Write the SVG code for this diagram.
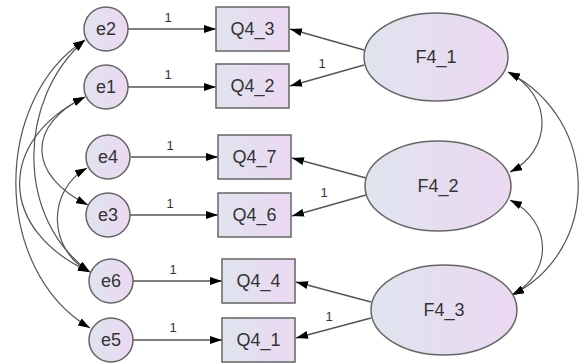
<svg xmlns="http://www.w3.org/2000/svg" width="582" height="363" viewBox="0 0 582 363">
  <defs>
    <linearGradient id="fillGrad" x1="0" y1="0" x2="1" y2="0">
      <stop offset="0" stop-color="#dfe4ee"/>
      <stop offset="1" stop-color="#ecd8f2"/>
    </linearGradient>
    <marker id="arrow" viewBox="0 0 12 8" refX="12" refY="4" markerWidth="12" markerHeight="8" markerUnits="userSpaceOnUse" orient="auto-start-reverse">
      <path d="M0,0 L12,4 L0,8 Z" fill="#000"/>
    </marker>
    <style>
      .node { fill: url(#fillGrad); stroke: #666; stroke-width: 1.5; }
      .label { font-family: "Liberation Sans", Arial, sans-serif; font-size: 18px; fill: #333; text-anchor: middle; dominant-baseline: central; }
      .weight { font-family: "Liberation Sans", Arial, sans-serif; font-size: 13px; fill: #333; text-anchor: middle; }
      .path { stroke: #555; stroke-width: 1.3; fill: none; marker-end: url(#arrow); }
      .cov { stroke: #555; stroke-width: 1.2; fill: none; marker-start: url(#arrow); marker-end: url(#arrow); }
    </style>
  </defs>
  <rect width="582" height="363" fill="#fff"/>

  <!-- connectors -->
  <g id="connectors">
    <!-- error terms to indicators -->
    <line class="path" x1="128" y1="29" x2="216" y2="29"/>
    <line class="path" x1="128" y1="87" x2="216" y2="87"/>
    <line class="path" x1="131" y1="157" x2="218" y2="157"/>
    <line class="path" x1="130" y1="215" x2="218" y2="215"/>
    <line class="path" x1="133" y1="281" x2="222" y2="281"/>
    <line class="path" x1="133" y1="340" x2="222" y2="340"/>
    <!-- factors to indicators -->
    <line class="path" x1="364" y1="50" x2="290" y2="29"/>
    <line class="path" x1="364" y1="65" x2="290" y2="86"/>
    <line class="path" x1="366" y1="178" x2="292" y2="158"/>
    <line class="path" x1="366" y1="195" x2="292" y2="216"/>
    <line class="path" x1="371" y1="302" x2="296" y2="282"/>
    <line class="path" x1="371" y1="318" x2="296" y2="338"/>
    <!-- error covariances -->
    <path class="cov" d="M85,40 C-8,100 -8,270 90,328"/>
    <path class="cov" d="M85,97 C-3,140 -3,230 90,272"/>
    <path class="cov" d="M85,40 C16,100 16,220 90,272"/>
    <path class="cov" d="M85,97 C27,125 27,175 88,205"/>
    <path class="cov" d="M87,168 C47,190 47,250 90,272"/>
    <!-- factor covariances -->
    <path class="cov" d="M508,72 C553,95 553,150 510,172"/>
    <path class="cov" d="M510,200 C553,222 553,273 512,295"/>
    <path class="cov" d="M508,72 C601,120 601,250 512,295"/>
    <!-- fixed weights -->
    <text class="weight" x="168" y="22">1</text>
    <text class="weight" x="168" y="79">1</text>
    <text class="weight" x="170" y="150">1</text>
    <text class="weight" x="170" y="208">1</text>
    <text class="weight" x="173" y="274">1</text>
    <text class="weight" x="173" y="332">1</text>
    <text class="weight" x="322" y="68">1</text>
    <text class="weight" x="324" y="197">1</text>
    <text class="weight" x="329" y="321">1</text>
  </g>

  <!-- error terms -->
  <g id="e2"><circle class="node" cx="106" cy="29" r="22"/><text class="label" x="106" y="29">e2</text></g>
  <g id="e1"><circle class="node" cx="106" cy="87" r="22"/><text class="label" x="106" y="87">e1</text></g>
  <g id="e4"><circle class="node" cx="108" cy="157" r="22"/><text class="label" x="108" y="157">e4</text></g>
  <g id="e3"><circle class="node" cx="108" cy="215" r="22"/><text class="label" x="108" y="215">e3</text></g>
  <g id="e6"><circle class="node" cx="111" cy="281" r="22"/><text class="label" x="111" y="281">e6</text></g>
  <g id="e5"><circle class="node" cx="111" cy="340" r="22"/><text class="label" x="111" y="340">e5</text></g>

  <!-- observed indicators -->
  <g id="Q4_3"><rect class="node" x="216" y="7" width="73" height="44"/><text class="label" x="252.5" y="29">Q4_3</text></g>
  <g id="Q4_2"><rect class="node" x="216" y="64" width="73" height="44"/><text class="label" x="252.5" y="86">Q4_2</text></g>
  <g id="Q4_7"><rect class="node" x="218" y="135" width="73" height="44"/><text class="label" x="254.5" y="157">Q4_7</text></g>
  <g id="Q4_6"><rect class="node" x="218" y="193" width="73" height="44"/><text class="label" x="254.5" y="215">Q4_6</text></g>
  <g id="Q4_4"><rect class="node" x="222" y="259" width="73" height="44"/><text class="label" x="258.5" y="281">Q4_4</text></g>
  <g id="Q4_1"><rect class="node" x="222" y="318" width="73" height="44"/><text class="label" x="258.5" y="340">Q4_1</text></g>

  <!-- latent factors -->
  <g id="F4_1"><ellipse class="node" cx="436" cy="57" rx="72" ry="44"/><text class="label" x="436" y="57">F4_1</text></g>
  <g id="F4_2"><ellipse class="node" cx="438" cy="186" rx="73" ry="45"/><text class="label" x="438" y="186">F4_2</text></g>
  <g id="F4_3"><ellipse class="node" cx="444" cy="310" rx="73" ry="45"/><text class="label" x="444" y="310">F4_3</text></g>
</svg>
